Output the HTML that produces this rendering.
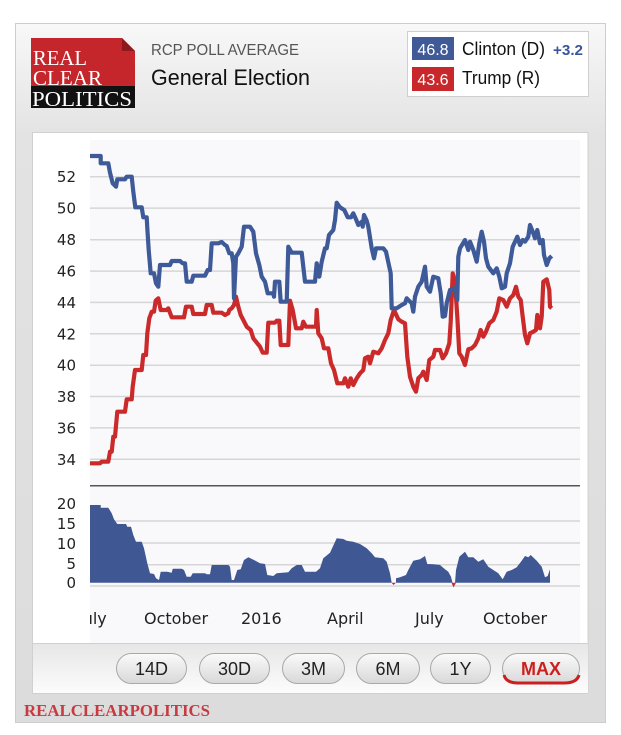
<!DOCTYPE html>
<html>
<head>
<meta charset="utf-8">
<style>
html,body{margin:0;padding:0;background:#fff;}
svg{display:block;}
</style>
</head>
<body>
<svg width="621" height="735" viewBox="0 0 621 735" xmlns="http://www.w3.org/2000/svg">
<defs>
  <linearGradient id="frameG" gradientUnits="userSpaceOnUse" x1="0" y1="23" x2="0" y2="723">
    <stop offset="0" stop-color="#f8f8f8"/>
    <stop offset="0.16" stop-color="#e3e3e3"/>
    <stop offset="1" stop-color="#dcdcdc"/>
  </linearGradient>
  <linearGradient id="barG" x1="0" y1="0" x2="0" y2="1">
    <stop offset="0" stop-color="#e6e6e6"/>
    <stop offset="1" stop-color="#fcfcfc"/>
  </linearGradient>
  <linearGradient id="btnG" x1="0" y1="0" x2="0" y2="1">
    <stop offset="0" stop-color="#fbfbfb"/>
    <stop offset="1" stop-color="#d8d8d8"/>
  </linearGradient>
  <clipPath id="plotClip"><rect x="90" y="140" width="490" height="503"/></clipPath>
</defs>

<!-- outer frame -->
<rect x="15.5" y="23.5" width="590" height="699" fill="url(#frameG)" stroke="#cdcdcd" stroke-width="1"/>

<!-- logo -->
<polygon points="31,38 122,38 135,51 135,86 31,86" fill="#c4262b"/>
<polygon points="122,38 135,51 122,51" fill="#8e1a1e"/>
<rect x="31" y="86" width="104" height="22" fill="#111"/>
<text x="33" y="65" font-family="Liberation Serif, serif" font-size="21" fill="#fff" textLength="54" lengthAdjust="spacingAndGlyphs">REAL</text>
<text x="33" y="85" font-family="Liberation Serif, serif" font-size="21" fill="#fff" textLength="69" lengthAdjust="spacingAndGlyphs">CLEAR</text>
<text x="32" y="106" font-family="Liberation Serif, serif" font-size="21" fill="#fff" textLength="100" lengthAdjust="spacingAndGlyphs">POLITICS</text>

<!-- header titles -->
<text x="151" y="55" font-family="Liberation Sans, sans-serif" font-size="15.5" fill="#555" textLength="148" lengthAdjust="spacingAndGlyphs">RCP POLL AVERAGE</text>
<text x="151" y="85" font-family="Liberation Sans, sans-serif" font-size="22" fill="#111" textLength="159" lengthAdjust="spacingAndGlyphs">General Election</text>

<!-- legend -->
<rect x="407.5" y="31.5" width="181" height="65" fill="#fff" stroke="#cfcfcf"/>
<rect x="412" y="37" width="42" height="23" fill="#3f5a97"/>
<rect x="412" y="67" width="42" height="24" fill="#c8282b"/>
<text x="433" y="55" text-anchor="middle" font-family="Liberation Sans, sans-serif" font-size="16" fill="#fff">46.8</text>
<text x="433" y="85" text-anchor="middle" font-family="Liberation Sans, sans-serif" font-size="16" fill="#fff">43.6</text>
<text x="462" y="55" font-family="Liberation Sans, sans-serif" font-size="18" fill="#111" textLength="83" lengthAdjust="spacingAndGlyphs">Clinton (D)</text>
<text x="462" y="84" font-family="Liberation Sans, sans-serif" font-size="18" fill="#111" textLength="78" lengthAdjust="spacingAndGlyphs">Trump (R)</text>
<text x="553" y="55" font-family="Liberation Sans, sans-serif" font-size="15" font-weight="bold" fill="#3a559c" textLength="30" lengthAdjust="spacingAndGlyphs">+3.2</text>

<!-- chart card -->
<rect x="32.5" y="132.5" width="555.5" height="561" fill="#fff" stroke="#d0d0d0"/>
<rect x="90" y="140" width="490" height="503" fill="#f9f9fc"/>

<!-- upper gridlines -->
<g stroke="#d6d6d6" stroke-width="1.5">
  <line x1="90" x2="580" y1="176.7" y2="176.7"/>
  <line x1="90" x2="580" y1="208.1" y2="208.1"/>
  <line x1="90" x2="580" y1="239.7" y2="239.7"/>
  <line x1="90" x2="580" y1="271.1" y2="271.1"/>
  <line x1="90" x2="580" y1="302.4" y2="302.4"/>
  <line x1="90" x2="580" y1="333.8" y2="333.8"/>
  <line x1="90" x2="580" y1="365.2" y2="365.2"/>
  <line x1="90" x2="580" y1="396.5" y2="396.5"/>
  <line x1="90" x2="580" y1="427.9" y2="427.9"/>
  <line x1="90" x2="580" y1="459.3" y2="459.3"/>
</g>
<g font-family="DejaVu Sans, sans-serif" font-size="15" fill="#222" text-anchor="end">
  <text x="76" y="182.2">52</text>
  <text x="76" y="213.6">50</text>
  <text x="76" y="245.2">48</text>
  <text x="76" y="276.6">46</text>
  <text x="76" y="307.9">44</text>
  <text x="76" y="339.3">42</text>
  <text x="76" y="370.7">40</text>
  <text x="76" y="402">38</text>
  <text x="76" y="433.4">36</text>
  <text x="76" y="464.8">34</text>
</g>

<!-- red line -->
<polyline fill="none" stroke="#cb2a2a" stroke-width="4.2" stroke-linejoin="round" points="90,463.3 100,463.3 101.7,461.7 108.3,461.7 110,451.7 111.7,451.7 113.3,436.7 115,436.7 117.3,411.7 125,411.7 126.7,399.3 131.7,399.3 132.7,386.7 135,370 141.7,370 143.3,355 146,355 147.3,333.3 149.3,318.3 151.7,311.7 154,311.7 155.7,300.7 158.3,298.3 160.7,310 166.7,310 168.3,308.3 171.7,317.3 184,317.3 186,306.7 191.7,306.7 193.3,314 205,314 206.7,305 211.7,305 213.3,312.7 221.7,312.7 225,315 228.3,313.3 229.3,310 231.7,308.3 234,305 236,296.7 238.3,306.7 240.7,315 243.3,320 246.7,326.7 250.7,330 253.3,338.3 257.3,343.3 260,346.7 262.7,352.7 266.7,352.7 268.3,322.7 275,322.7 276.7,320.7 279.3,320.7 280.7,345 288.3,345 290,300.7 292.7,310 296,328.3 301.7,328.3 303.3,321.7 306,326.7 316,326.7 316.7,310 318.3,333.3 321.7,338.3 324,348.3 328.3,348.3 331,363.3 334,370 337.3,383.3 343.3,383.3 345,378.3 348.3,386.7 350.7,378.3 353.3,385 356.7,378.3 360,373.3 363.3,370 365,358.3 368.3,356.7 370,363.3 373.3,351.7 378.3,353.3 381.7,348.3 385,340 388.3,333.3 390.7,320 394,310 398.3,319.3 401.7,321.7 405,323.3 407.3,356.7 410,376.7 413.3,386.7 416,391.7 418.3,378.3 421.7,375 423.3,371.7 426.7,380 429.3,360 433.3,356.7 435,350 440,350 442.7,358.3 446,353.3 449.3,343.3 450.7,321.7 452.7,273.3 455,281.7 457.3,316.7 459.3,353.3 461.7,356.7 465,365 468.3,349.3 471.7,348.3 475,345 478.3,338.3 480.7,330 483.3,336.7 486,331.7 489.3,323.3 493.3,320 496.7,311.7 499.3,298.3 503.3,300 506.7,306.7 510,298.3 513.3,295 516,286.7 518.3,296.7 520.7,300 522.7,316.7 525,335 527.3,343.3 530,333.3 533.3,331.7 536,330 537.3,315 540,328.3 541.7,316.7 543.3,281.7 546.7,279.3 549.3,290 550,306.7 551.7,308.3"/>

<!-- blue line -->
<polyline fill="none" stroke="#3e5a98" stroke-width="4.2" stroke-linejoin="round" points="90,156 100.7,156 100.7,163.3 108.3,163.3 110,172.7 112.7,183.3 116,186.7 117.3,179.3 125,179.3 126.7,176.7 131.7,176.7 133.3,191.7 135.3,207.3 141.7,207.3 143.3,217.3 146.7,217.3 147.3,228.3 148.7,250 150.7,273.3 154,273.3 156,283.3 158.3,286.7 160,265 170,265 171.7,261 180,261 182.7,263.3 185,263.3 186.7,281.7 191.7,281.7 193.3,275.7 205,275.7 207.7,270 210,270 211.7,243.3 218.3,243.3 221.7,242 225,245 226.7,246 229.3,253.3 231.7,253.3 233.3,263.3 234,298.3 236,256.7 238.3,253.3 241.7,246.7 244,226.7 250,226.7 253.3,231.7 256,253.3 259.3,265 261.7,276.7 265,281.7 267.7,293.3 273.3,293.3 274,296.7 275,281.7 279.3,281.7 280.7,301.7 286.7,301.7 288.3,246.7 291.7,252.7 301.7,252.7 303.3,266.7 305,281.7 315,281.7 316.7,263.3 319.3,276.7 321.7,261.7 325,248.3 326.7,248.3 329,235 333.3,230 335,220 336.7,202.7 340,207.3 344.3,210 347.7,217.3 351,217.3 353.3,213.3 356,219.3 358.3,225 361.7,221.7 362.7,226.7 364,215 366.7,220.7 368.3,226.7 371.7,248.3 374,258.3 376,248.3 383.3,248.3 386,251.7 390.7,273.3 391.7,308.3 396.7,308.3 401.7,305 405,303.3 406.7,298.3 411.7,303.3 413.3,311.7 415,296.7 418.3,286.7 421.7,281.7 425,266.7 426.7,286.7 430,291.7 433.3,276.7 438.3,278.3 440.7,293.3 442.7,316.7 445,316 446.7,303.3 450,290 455,288 457.3,300 458.3,256.7 460,248.3 465,240 468.3,250 470,241.7 473.3,250 476.7,261.7 479.3,243.3 481.7,231.7 484,241.7 486,258.3 488.3,266.7 493.3,273.3 496.7,268.3 499.3,276.7 501.7,288.3 505,286.7 506.7,273.3 510,263.3 512.7,246.7 517.3,236.7 520,245 522.7,240 525,241.7 528.3,236.7 530,225 532.7,231.7 535,238.3 537.3,230 540,243.3 542.7,240 544,255 546.7,265 549.3,258.3 551.7,256"/>

<!-- separator -->
<line x1="90" x2="580" y1="485.7" y2="485.7" stroke="#555" stroke-width="1.5"/>

<!-- lower gridlines -->
<g stroke="#d6d6d6" stroke-width="1.5">
  <line x1="90" x2="580" y1="521" y2="521"/>
  <line x1="90" x2="580" y1="543" y2="543"/>
  <line x1="90" x2="580" y1="564.7" y2="564.7"/>
  <line x1="90" x2="580" y1="586" y2="586"/>
</g>
<g font-family="DejaVu Sans, sans-serif" font-size="15" fill="#222" text-anchor="end">
  <text x="76" y="508.8">20</text>
  <text x="76" y="528.8">15</text>
  <text x="76" y="548.8">10</text>
  <text x="76" y="568.8">5</text>
  <text x="76" y="588.2">0</text>
</g>

<!-- spread area -->
<path fill="#3f5793" d="M90,582.7 L90,505 L100.7,505 L100.7,507.7 L108.3,507.7 L111.7,513.3 L114,519.3 L117.3,524 L126,524 L127.3,526.7 L131,526.7 L133.3,535 L136,541.7 L141.7,541.7 L144,548.3 L147.3,563.3 L150,573.3 L154,574 L156,578.3 L159,580 L160.7,571.7 L167.3,571.7 L171.7,572.7 L172.7,568.7 L181.7,568.7 L184,570 L186.7,576.7 L190.7,576.7 L192.7,573.3 L205,573.3 L206.7,574.3 L210,574.3 L211.7,565 L228.3,565 L230,566.7 L231.7,580 L234,580 L237.3,570 L240.7,569.3 L244,560 L248.3,557.3 L254,560 L260,563.3 L265,564 L267.3,575 L273.3,576 L276.7,573.3 L288.3,572.3 L291.7,568.3 L296.7,565 L301.7,565 L305,571.7 L316,571.7 L320,568.3 L323.3,558.3 L330,552.7 L336.7,538.3 L343.3,539 L346.7,540.7 L353.3,541.7 L360,544 L366.7,548.3 L371.7,553.3 L375,557.3 L383.3,558.3 L386.7,561.7 L390,573.3 L391.7,582.7 L396,582.7 L396,578.3 L400,577.3 L406,575 L408.3,570 L413.3,560.7 L420,559.3 L425,556 L427.3,564 L433.3,564.3 L440,565 L445,569.3 L448.3,571.7 L451,576.7 L452.5,582.7 L455,582.7 L456,570 L459.3,556.7 L465,551.7 L468.3,557.3 L473.3,557.3 L478.3,561.7 L483.3,559.3 L488.3,566.7 L493.3,570 L498.3,573.3 L502.7,579.3 L506.7,571.7 L511.7,570 L516.7,567.3 L521.7,560.7 L525,556 L528.3,557.3 L530.7,555 L536.7,560.7 L541.7,566.7 L545,577.3 L547.7,576 L550,569.3 L550,582.7 Z"/>
<polygon points="391.5,582.7 396,582.7 393.5,585" fill="#cb2a2a"/>
<polygon points="451.5,582.7 456,582.7 453.5,587.5" fill="#cb2a2a"/>

<!-- x axis labels -->
<g font-family="DejaVu Sans, sans-serif" font-size="16" fill="#222">
  <text x="78" y="624" clip-path="url(#plotClip)">July</text>
  <text x="144" y="624">October</text>
  <text x="241" y="624">2016</text>
  <text x="327" y="624">April</text>
  <text x="415" y="624">July</text>
  <text x="483" y="624">October</text>
</g>

<!-- button bar -->
<rect x="33" y="643" width="555" height="50" fill="url(#barG)"/>
<line x1="33" x2="588" y1="643.5" y2="643.5" stroke="#cfcfcf"/>

<g stroke="#a9a9a9" stroke-width="1" fill="url(#btnG)">
  <rect x="116.5" y="653.5" width="70" height="30" rx="15"/>
  <rect x="199.5" y="653.5" width="70" height="30" rx="15"/>
  <rect x="282.5" y="653.5" width="62" height="30" rx="15"/>
  <rect x="356.5" y="653.5" width="63" height="30" rx="15"/>
  <rect x="430.5" y="653.5" width="60" height="30" rx="15"/>
  <rect x="502.5" y="653.5" width="77" height="30" rx="15"/>
</g>
<path d="M504,675 Q506,683 518,683 L564,683 Q577,683 579,675" fill="none" stroke="#cc1f1f" stroke-width="3"/>
<g font-family="Liberation Sans, sans-serif" font-size="18" fill="#222" text-anchor="middle">
  <text x="151.5" y="675">14D</text>
  <text x="234.5" y="675">30D</text>
  <text x="313.5" y="675">3M</text>
  <text x="388" y="675">6M</text>
  <text x="460.5" y="675">1Y</text>
  <text x="541" y="675" font-weight="bold" fill="#cc1f1f">MAX</text>
</g>

<!-- footer -->
<text x="24" y="716" font-family="Liberation Serif, serif" font-size="17" font-weight="bold" fill="#c73a41" textLength="186" lengthAdjust="spacingAndGlyphs">REALCLEARPOLITICS</text>
</svg>
</body>
</html>
